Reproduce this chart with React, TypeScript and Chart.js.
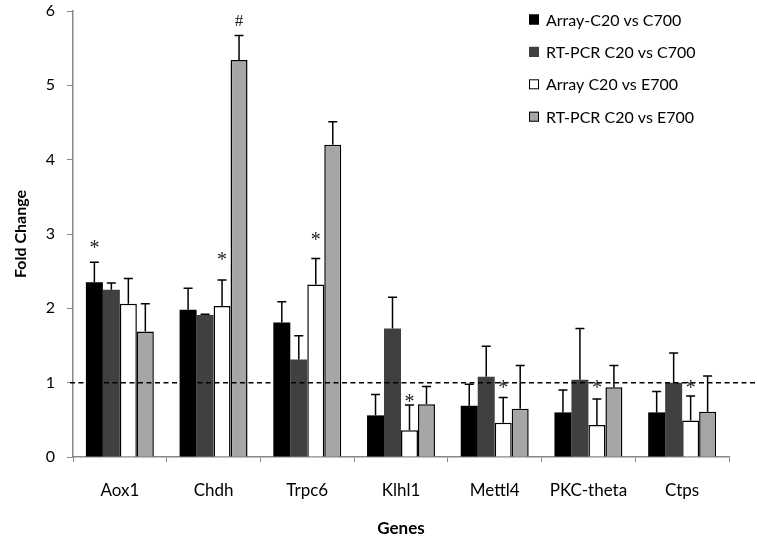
import React, { useEffect, useRef } from "react";
import { Chart, registerables } from "chart.js";

Chart.register(...registerables);

const categories = ["Aox1", "Chdh", "Trpc6", "Klhl1", "Mettl4", "PKC-theta", "Ctps"];
const seriesNames = ["Array-C20 vs C700", "RT-PCR C20 vs C700", "Array C20 vs E700", "RT-PCR C20 vs E700"];

const arrayC700 = [2.35, 1.98, 1.81, 0.56, 0.69, 0.6, 0.6];
const rtpcrC700 = [2.25, 1.91, 1.31, 1.73, 1.08, 1.04, 1.0];
const arrayE700 = [2.06, 2.03, 2.32, 0.36, 0.46, 0.43, 0.49];
const rtpcrE700 = [1.69, 5.34, 4.2, 0.71, 0.65, 0.94, 0.61];

const errArrayC700 = [0.27, 0.29, 0.28, 0.28, 0.29, 0.3, 0.28];
const errRtpcrC700 = [0.09, 0.01, 0.32, 0.42, 0.41, 0.69, 0.4];
const errArrayE700 = [0.34, 0.35, 0.35, 0.34, 0.34, 0.35, 0.33];
const errRtpcrE700 = [0.37, 0.33, 0.31, 0.24, 0.58, 0.29, 0.48];

// annotations: [category index, series index, text, y value]
const markCategory = [0, 1, 2, 3, 4, 5, 6, 1];
const markSeries = [0, 2, 2, 2, 2, 2, 2, 3];
const markText = ["*", "*", "*", "*", "*", "*", "*", "#"];
const markValue = [2.85, 2.69, 2.96, 0.78, 0.97, 0.97, 0.97, 5.86];

const yTicks = [0, 1, 2, 3, 4, 5, 6];
const referenceLine = 1;

const fills = ["#000000", "#404040", "#ffffff", "#a6a6a6"];
const borders = ["#000000", "#404040", "#000000", "#000000"];

const FONT = "Lato, 'Open Sans', sans-serif";

const extrasPlugin = {
  id: "extras",
  afterDatasetsDraw(chart: any) {
    const ctx = chart.ctx;
    const y = chart.scales.y;
    const area = chart.chartArea;
    const errs = [errArrayC700, errRtpcrC700, errArrayE700, errRtpcrE700];
    ctx.save();
    // dashed reference line
    ctx.strokeStyle = "#000";
    ctx.lineWidth = 1.5;
    ctx.setLineDash([5, 3.5]);
    ctx.beginPath();
    const ry = y.getPixelForValue(referenceLine);
    ctx.moveTo(area.left - 3, ry);
    ctx.lineTo(chart.width, ry);
    ctx.stroke();
    ctx.setLineDash([]);
    // error bars
    chart.data.datasets.forEach((ds: any, i: number) => {
      const meta = chart.getDatasetMeta(i);
      meta.data.forEach((bar: any, j: number) => {
        const v = ds.data[j];
        const top = y.getPixelForValue(v + errs[i][j]);
        const base = y.getPixelForValue(v);
        ctx.strokeStyle = "#000";
        ctx.lineWidth = 1.5;
        ctx.beginPath();
        ctx.moveTo(bar.x, base);
        ctx.lineTo(bar.x, top);
        ctx.moveTo(bar.x - 4.5, top);
        ctx.lineTo(bar.x + 4.5, top);
        ctx.stroke();
      });
    });
    // annotations
    ctx.fillStyle = "#222";
    ctx.textAlign = "center";
    ctx.textBaseline = "middle";
    markText.forEach((t, k) => {
      const bar = chart.getDatasetMeta(markSeries[k]).data[markCategory[k]];
      const py = y.getPixelForValue(markValue[k]);
      if (t === "*") {
        ctx.font = "20px 'Liberation Serif', serif";
        ctx.fillText(t, bar.x, py + 4);
      } else {
        ctx.font = "17px 'Liberation Serif', serif";
        ctx.fillText(t, bar.x, py);
      }
    });
    ctx.restore();
  },
  afterDraw(chart: any) {
    const ctx = chart.ctx;
    ctx.save();
    const x0 = 529;
    const y0 = 19.5;
    const step = 32.4;
    ctx.font = "16px " + FONT;
    ctx.textBaseline = "middle";
    ctx.textAlign = "left";
    seriesNames.forEach((name, i) => {
      const cy = y0 + i * step;
      ctx.fillStyle = fills[i];
      ctx.fillRect(x0, cy - 5, 10, 10);
      ctx.strokeStyle = i === 1 ? "#404040" : "#000";
      ctx.lineWidth = 1;
      ctx.strokeRect(x0 + 0.5, cy - 4.5, 9, 9);
      ctx.fillStyle = "#000";
      ctx.fillText(name, x0 + 17, cy + 1);
    });
    ctx.restore();
  },
};

export default function App() {
  const ref = useRef<HTMLCanvasElement | null>(null);
  useEffect(() => {
    document.body.style.margin = "0";
    const values = [arrayC700, rtpcrC700, arrayE700, rtpcrE700];
    const chart = new Chart(ref.current as HTMLCanvasElement, {
      type: "bar",
      data: {
        labels: categories,
        datasets: seriesNames.map((name, i) => ({
          label: name,
          data: values[i],
          backgroundColor: fills[i],
          borderColor: borders[i],
          borderWidth: i >= 2 ? 1.5 : 0,
          categoryPercentage: 0.725,
          barPercentage: 1,
        })),
      },
      options: {
        responsive: false,
        animation: false,
        layout: { padding: { top: 11, right: 28, left: 0, bottom: 0 } },
        plugins: {
          legend: { display: false },
          tooltip: { enabled: false },
        },
        scales: {
          x: {
            grid: {
              display: true,
              drawOnChartArea: false,
              drawTicks: true,
              tickLength: 5,
              color: "#888",
              offset: true,
            },
            border: { display: true, color: "#888", width: 1.5 },
            ticks: {
              color: "#000",
              font: { family: FONT, size: 17 },
              padding: 18,
              maxRotation: 0,
            },
            title: {
              display: true,
              text: "Genes",
              color: "#000",
              font: { family: FONT, size: 17, weight: "bold" },
              padding: { top: 0, bottom: 3 },
            },
            afterFit: (s: any) => {
              s.height = 85;
            },
          },
          y: {
            min: 0,
            max: 6,
            afterBuildTicks: (s: any) => {
              s.ticks = yTicks.map((v) => ({ value: v }));
            },
            grid: {
              display: true,
              drawOnChartArea: false,
              drawTicks: true,
              tickLength: 6,
              color: "#888",
            },
            border: { display: true, color: "#888", width: 1.5 },
            ticks: {
              color: "#000",
              font: { family: FONT, size: 16 },
              padding: 12,
            },
            title: {
              display: true,
              text: "Fold Change",
              color: "#000",
              font: { family: FONT, size: 16, weight: "bold" },
              padding: { top: 11, bottom: 0 },
            },
            afterFit: (s: any) => {
              s.width = 73;
              s.paddingTop = 0;
              s.paddingBottom = 0;
            },
          },
        },
      },
      plugins: [extrasPlugin],
    });
    return () => chart.destroy();
  }, []);
  return (
    <div style={{ position: "fixed", left: 0, top: 0, width: 757, height: 542, background: "#fff" }}>
      <canvas ref={ref} width={757} height={542} style={{ width: 757, height: 542, display: "block" }} />
    </div>
  );
}
